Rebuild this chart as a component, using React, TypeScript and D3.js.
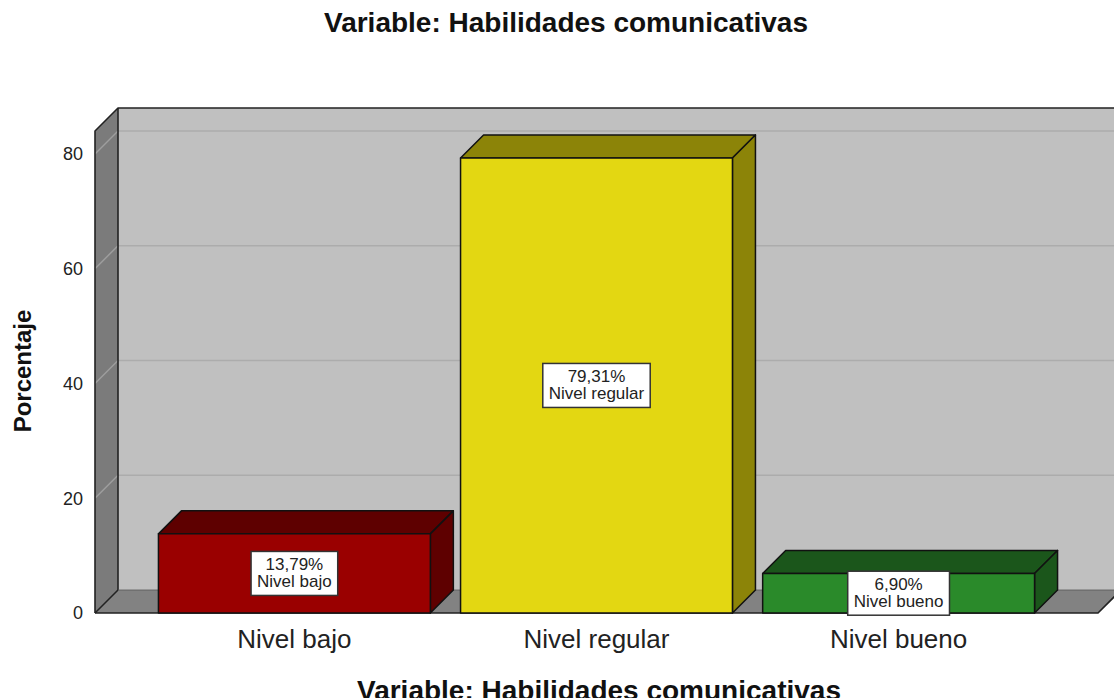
import { useMemo } from "react";
import * as d3 from "d3";

const categories = ["Nivel bajo", "Nivel regular", "Nivel bueno"];
const percentages = [13.79, 79.31, 6.9];
const yTicks = [0, 20, 40, 60, 80];

const WIDTH = 1114;
const HEIGHT = 698;
const FONT = "'Liberation Sans', Arial, sans-serif";
const DEPTH = 23;
const FRONT_LEFT = 95;
const FRONT_RIGHT = 1098;
const FLOOR_Y = 613;
const TOP_Y = 131;

const FRONT_COLORS = ["#9a0000", "#e3d712", "#2a8a2a"];
const SIDE_COLORS = ["#5e0000", "#8c8408", "#1b561b"];

const measure = (text: string, font: string) => {
  const ctx = document.createElement("canvas").getContext("2d");
  if (!ctx) return text.length * 8;
  ctx.font = font;
  return ctx.measureText(text).width;
};

export default function App() {
  const xScale = useMemo(
    () =>
      d3
        .scaleBand()
        .domain(categories)
        .range([FRONT_LEFT, FRONT_RIGHT])
        .paddingInner(0.1)
        .paddingOuter(0.21),
    []
  );
  const yScale = d3.scaleLinear().domain([0, 84]).range([FLOOR_Y, TOP_Y]);
  const bw = xScale.bandwidth();
  const y0 = yScale(0);
  const backLeft = FRONT_LEFT + DEPTH;
  const backRight = FRONT_RIGHT + DEPTH;

  const fmt = (v: number) => v.toFixed(2).replace(".", ",") + "%";

  return (
    <svg
      width={WIDTH}
      height={HEIGHT}
      style={{ position: "absolute", left: 0, top: 0, background: "#fff" }}
      fontFamily={FONT}
    >
      {/* Back wall */}
      <rect
        x={backLeft}
        y={TOP_Y - DEPTH}
        width={backRight - backLeft + 20}
        height={y0 - TOP_Y}
        fill="#c0c0c0"
      />
      {/* Left wall */}
      <polygon
        points={`${FRONT_LEFT},${y0} ${FRONT_LEFT},${TOP_Y} ${backLeft},${TOP_Y - DEPTH} ${backLeft},${y0 - DEPTH}`}
        fill="#7b7b7b"
      />
      {/* Floor */}
      <polygon
        points={`${FRONT_LEFT},${y0} ${backLeft},${y0 - DEPTH} ${backRight},${y0 - DEPTH} ${FRONT_RIGHT},${y0}`}
        fill="#828282"
      />
      {/* Grid lines */}
      {yTicks
        .filter((t) => t > 0)
        .map((t) => (
          <g key={t}>
            <line
              x1={backLeft}
              x2={WIDTH}
              y1={yScale(t) - DEPTH}
              y2={yScale(t) - DEPTH}
              stroke="#acacac"
              strokeWidth={1.5}
            />
            <line
              x1={FRONT_LEFT}
              x2={backLeft}
              y1={yScale(t)}
              y2={yScale(t) - DEPTH}
              stroke="#9e9e9e"
              strokeWidth={1.5}
            />
          </g>
        ))}
      {/* Wall outlines */}
      <g stroke="#222" strokeWidth={1.6} fill="none" strokeLinejoin="round">
        <polyline
          points={`${FRONT_LEFT},${y0} ${FRONT_LEFT},${TOP_Y} ${backLeft},${TOP_Y - DEPTH} ${WIDTH},${TOP_Y - DEPTH}`}
        />
        <line x1={backLeft} x2={backLeft} y1={TOP_Y - DEPTH} y2={y0 - DEPTH} />
        <polyline
          points={`${FRONT_LEFT},${y0} ${FRONT_RIGHT},${y0} ${backRight},${y0 - DEPTH}`}
        />
        <line x1={FRONT_LEFT} x2={backLeft} y1={y0} y2={y0 - DEPTH} />
        <line x1={backLeft} x2={WIDTH} y1={y0 - DEPTH} y2={y0 - DEPTH} strokeWidth={0.8} stroke="#555" />
      </g>
      {/* Bars */}
      {categories.map((c, i) => {
        const x = xScale(c) as number;
        const y = yScale(percentages[i]);
        return (
          <g key={c} stroke="#111" strokeWidth={1.5} strokeLinejoin="round">
            <polygon
              points={`${x},${y} ${x + DEPTH},${y - DEPTH} ${x + bw + DEPTH},${y - DEPTH} ${x + bw},${y}`}
              fill={SIDE_COLORS[i]}
            />
            <polygon
              points={`${x + bw},${y} ${x + bw + DEPTH},${y - DEPTH} ${x + bw + DEPTH},${y0 - DEPTH} ${x + bw},${y0}`}
              fill={SIDE_COLORS[i]}
            />
            <rect x={x} y={y} width={bw} height={y0 - y} fill={FRONT_COLORS[i]} />
          </g>
        );
      })}
      {/* Value labels */}
      {categories.map((c, i) => {
        const cx = (xScale(c) as number) + bw / 2;
        const cy = (yScale(percentages[i]) + y0) / 2;
        const f = `17px ${FONT}`;
        const w = Math.max(measure(fmt(percentages[i]), f), measure(c, f)) + 12;
        return (
          <g key={c}>
            <rect
              x={cx - w / 2}
              y={cy - 22}
              width={w}
              height={44}
              fill="#fff"
              stroke="#333"
              strokeWidth={1.5}
            />
            <text x={cx} y={cy - 3} textAnchor="middle" fontSize={17} fill="#222">
              {fmt(percentages[i])}
            </text>
            <text x={cx} y={cy + 14} textAnchor="middle" fontSize={17} fill="#222">
              {c}
            </text>
          </g>
        );
      })}
      {/* Y axis tick labels */}
      {yTicks.map((t) => (
        <text
          key={t}
          x={83}
          y={yScale(t)}
          dy="0.35em"
          textAnchor="end"
          fontSize={18}
          fill="#222"
        >
          {t}
        </text>
      ))}
      {/* X axis category labels */}
      {categories.map((c) => (
        <text
          key={c}
          x={(xScale(c) as number) + bw / 2}
          y={648}
          textAnchor="middle"
          fontSize={26}
          fill="#222"
        >
          {c}
        </text>
      ))}
      {/* Titles */}
      <text x={566} y={32} textAnchor="middle" fontSize={28} fontWeight="bold" fill="#111">
        Variable: Habilidades comunicativas
      </text>
      <text x={599} y={700} textAnchor="middle" fontSize={28} fontWeight="bold" fill="#111">
        Variable: Habilidades comunicativas
      </text>
      <text
        transform="translate(31,371) rotate(-90)"
        textAnchor="middle"
        fontSize={24}
        fontWeight="bold"
        fill="#111"
      >
        Porcentaje
      </text>
    </svg>
  );
}
